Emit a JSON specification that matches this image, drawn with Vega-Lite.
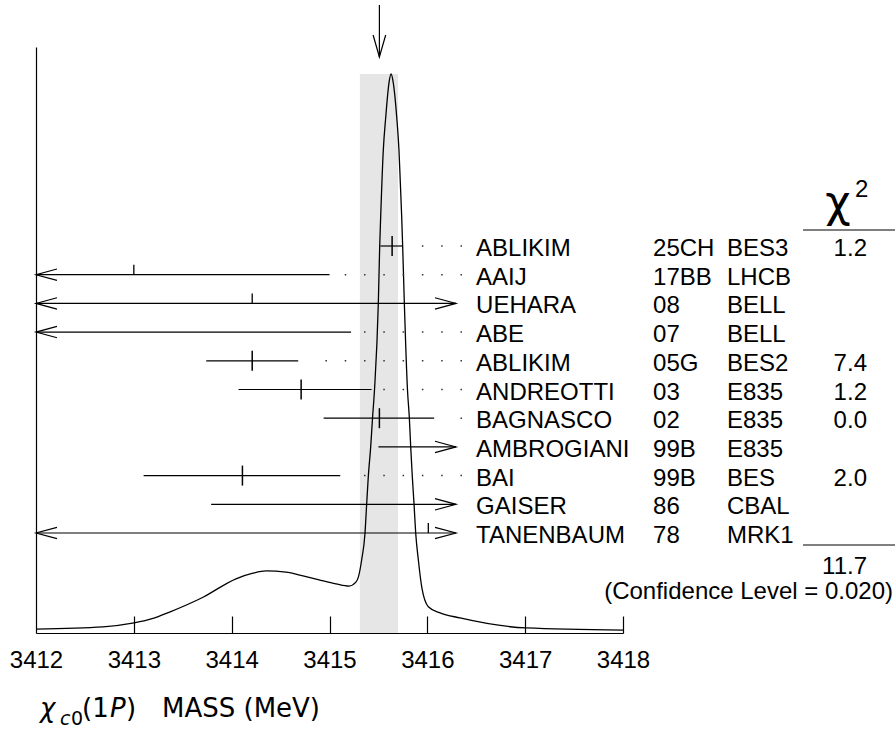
{
  "$schema": "https://vega.github.io/schema/vega-lite/v6.json",
  "width": 587,
  "height": 586,
  "autosize": {"type": "none"},
  "padding": {"left": 36, "top": 47, "right": 272, "bottom": 96},
  "background": "white",
  "config": {"view": {"stroke": null}, "axis": {"grid": false}},
  "datasets": {
    "measurements": [
      {"rank": 1, "name": "ABLIKIM", "ref": "25CH", "exp": "BES3", "value": 3415.64, "lo": 3415.52, "hi": 3415.75, "left_cut": false, "right_cut": false, "chi2": 1.2},
      {"rank": 2, "name": "AAIJ", "ref": "17BB", "exp": "LHCB", "value": 3413.0, "lo": 3412.0, "hi": 3415.0, "left_cut": true, "right_cut": false, "chi2": null},
      {"rank": 3, "name": "UEHARA", "ref": "08", "exp": "BELL", "value": 3414.21, "lo": 3412.0, "hi": 3416.293, "left_cut": true, "right_cut": true, "chi2": null},
      {"rank": 4, "name": "ABE", "ref": "07", "exp": "BELL", "value": null, "lo": 3412.0, "hi": 3415.22, "left_cut": true, "right_cut": false, "chi2": null},
      {"rank": 5, "name": "ABLIKIM", "ref": "05G", "exp": "BES2", "value": 3414.21, "lo": 3413.74, "hi": 3414.68, "left_cut": false, "right_cut": false, "chi2": 7.4},
      {"rank": 6, "name": "ANDREOTTI", "ref": "03", "exp": "E835", "value": 3414.71, "lo": 3414.07, "hi": 3415.43, "left_cut": false, "right_cut": false, "chi2": 1.2},
      {"rank": 7, "name": "BAGNASCO", "ref": "02", "exp": "E835", "value": 3415.51, "lo": 3414.94, "hi": 3416.07, "left_cut": false, "right_cut": false, "chi2": 0.0},
      {"rank": 8, "name": "AMBROGIANI", "ref": "99B", "exp": "E835", "value": null, "lo": 3415.5, "hi": 3416.293, "left_cut": false, "right_cut": true, "chi2": null},
      {"rank": 9, "name": "BAI", "ref": "99B", "exp": "BES", "value": 3414.11, "lo": 3413.1, "hi": 3415.11, "left_cut": false, "right_cut": false, "chi2": 2.0},
      {"rank": 10, "name": "GAISER", "ref": "86", "exp": "CBAL", "value": null, "lo": 3413.79, "hi": 3416.293, "left_cut": false, "right_cut": true, "chi2": null},
      {"rank": 11, "name": "TANENBAUM", "ref": "78", "exp": "MRK1", "value": 3416.01, "lo": 3412.0, "hi": 3416.293, "left_cut": true, "right_cut": true, "chi2": null}
    ],
    "curve": [
      {"mass": 3412.000, "ideogram": 0.007},
      {"mass": 3412.685, "ideogram": 0.011},
      {"mass": 3413.002, "ideogram": 0.018},
      {"mass": 3413.196, "ideogram": 0.026},
      {"mass": 3413.359, "ideogram": 0.037},
      {"mass": 3413.707, "ideogram": 0.064},
      {"mass": 3414.044, "ideogram": 0.097},
      {"mass": 3414.218, "ideogram": 0.107},
      {"mass": 3414.351, "ideogram": 0.111},
      {"mass": 3414.555, "ideogram": 0.109},
      {"mass": 3414.729, "ideogram": 0.102},
      {"mass": 3414.893, "ideogram": 0.095},
      {"mass": 3415.066, "ideogram": 0.088},
      {"mass": 3415.199, "ideogram": 0.084},
      {"mass": 3415.270, "ideogram": 0.091},
      {"mass": 3415.295, "ideogram": 0.100},
      {"mass": 3415.329, "ideogram": 0.131},
      {"mass": 3415.363, "ideogram": 0.179},
      {"mass": 3415.380, "ideogram": 0.231},
      {"mass": 3415.397, "ideogram": 0.281},
      {"mass": 3415.421, "ideogram": 0.333},
      {"mass": 3415.440, "ideogram": 0.385},
      {"mass": 3415.460, "ideogram": 0.435},
      {"mass": 3415.499, "ideogram": 0.590},
      {"mass": 3415.513, "ideogram": 0.691},
      {"mass": 3415.523, "ideogram": 0.744},
      {"mass": 3415.550, "ideogram": 0.864},
      {"mass": 3415.575, "ideogram": 0.923},
      {"mass": 3415.608, "ideogram": 0.984},
      {"mass": 3415.629, "ideogram": 1.000},
      {"mass": 3415.652, "ideogram": 0.984},
      {"mass": 3415.687, "ideogram": 0.923},
      {"mass": 3415.710, "ideogram": 0.864},
      {"mass": 3415.724, "ideogram": 0.805},
      {"mass": 3415.738, "ideogram": 0.744},
      {"mass": 3415.748, "ideogram": 0.691},
      {"mass": 3415.765, "ideogram": 0.590},
      {"mass": 3415.797, "ideogram": 0.435},
      {"mass": 3415.816, "ideogram": 0.385},
      {"mass": 3415.830, "ideogram": 0.333},
      {"mass": 3415.846, "ideogram": 0.281},
      {"mass": 3415.864, "ideogram": 0.231},
      {"mass": 3415.881, "ideogram": 0.179},
      {"mass": 3415.908, "ideogram": 0.131},
      {"mass": 3415.943, "ideogram": 0.082},
      {"mass": 3416.010, "ideogram": 0.047},
      {"mass": 3416.130, "ideogram": 0.036},
      {"mass": 3416.334, "ideogram": 0.027},
      {"mass": 3417.009, "ideogram": 0.009},
      {"mass": 3418.000, "ideogram": 0.005}
    ],
    "average": [{"mean": 3415.51, "lo": 3415.31, "hi": 3415.70}],
    "summary": [{"chi2_total": 11.7, "confidence_level": 0.020}]
  },
  "layer": [
    {
      "data": {"name": "average"},
      "mark": {"type": "rect", "color": "#e6e6e6"},
      "encoding": {
        "x": {
          "field": "lo", "type": "quantitative",
          "scale": {"domain": [3412, 3418], "nice": false, "zero": false},
          "axis": {
            "orient": "top", "offset": -586, "values": [3413, 3414, 3415, 3416, 3417, 3418],
            "title": null, "grid": false, "labels": false, "domain": false,
            "ticks": true, "tickSize": 17, "tickWidth": 1.2, "tickColor": "black"
          }
        },
        "x2": {"field": "hi"},
        "y": {"datum": 0, "type": "quantitative", "axis": null, "scale": {"domain": [0, 1.0483], "nice": false, "zero": false}},
        "y2": {"datum": 1}
      }
    },
    {
      "data": {"name": "curve"},
      "mark": {"type": "line", "color": "black", "strokeWidth": 1.3, "interpolate": "monotone"},
      "encoding": {
        "x": {
          "field": "mass", "type": "quantitative",
          "scale": {"domain": [3412, 3418], "nice": false, "zero": false},
          "axis": {
            "orient": "bottom", "values": [3412, 3413, 3414, 3415, 3416, 3417, 3418],
            "title": null, "grid": false, "format": "d", "ticks": false,
            "domainColor": "black", "domainWidth": 1.2,
            "labelFont": "Liberation Sans", "labelFontSize": 24, "labelColor": "black",
            "labelPadding": 15, "labelFlush": false, "labelOverlap": false
          }
        },
        "y": {
          "field": "ideogram", "type": "quantitative",
          "scale": {"domain": [0, 1.0483], "nice": false, "zero": false},
          "axis": {"domain": true, "ticks": false, "labels": false, "grid": false, "title": null, "domainColor": "black", "domainWidth": 1.2}
        }
      }
    },
    {
      "data": {"name": "average"},
      "mark": {"type": "rule", "color": "black", "strokeWidth": 1.2},
      "encoding": {
        "x": {"field": "mean", "type": "quantitative", "axis": null},
        "y": {"datum": 1.1234, "type": "quantitative", "axis": null, "scale": {"domain": [0, 1.0483], "nice": false, "zero": false}},
        "y2": {"datum": 1.0304}
      }
    },
    {
      "data": {"name": "average"},
      "mark": {"type": "point", "shape": "M -0.286 -1 L 0 0 L 0.286 -1", "size": 1936, "filled": false, "color": "black", "strokeWidth": 1.2, "opacity": 1},
      "encoding": {
        "x": {"field": "mean", "type": "quantitative", "axis": null},
        "y": {"datum": 1.0304, "type": "quantitative", "axis": null, "scale": {"domain": [0, 1.0483], "nice": false, "zero": false}}
      }
    },
    {
      "data": {"name": "average"},
      "mark": {"type": "text", "text": "χ", "font": "DejaVu Sans", "fontSize": 26, "fontStyle": "italic", "align": "left", "baseline": "alphabetic", "color": "black"},
      "encoding": {"x": {"datum": 3412.041, "type": "quantitative", "axis": null}, "y": {"datum": -0.150, "type": "quantitative", "axis": null, "scale": {"domain": [0, 1.0483], "nice": false, "zero": false}}}
    },
    {
      "data": {"name": "average"},
      "mark": {"type": "text", "text": "c", "font": "DejaVu Sans", "fontSize": 19, "fontStyle": "italic", "align": "left", "baseline": "alphabetic", "color": "black"},
      "encoding": {"x": {"datum": 3412.245, "type": "quantitative", "axis": null}, "y": {"datum": -0.1646, "type": "quantitative", "axis": null, "scale": {"domain": [0, 1.0483], "nice": false, "zero": false}}}
    },
    {
      "data": {"name": "average"},
      "mark": {"type": "text", "text": "0", "font": "DejaVu Sans", "fontSize": 19, "align": "left", "baseline": "alphabetic", "color": "black"},
      "encoding": {"x": {"datum": 3412.358, "type": "quantitative", "axis": null}, "y": {"datum": -0.1646, "type": "quantitative", "axis": null, "scale": {"domain": [0, 1.0483], "nice": false, "zero": false}}}
    },
    {
      "data": {"name": "average"},
      "mark": {"type": "text", "text": "(1", "font": "DejaVu Sans", "fontSize": 26, "align": "left", "baseline": "alphabetic", "color": "black"},
      "encoding": {"x": {"datum": 3412.470, "type": "quantitative", "axis": null}, "y": {"datum": -0.150, "type": "quantitative", "axis": null, "scale": {"domain": [0, 1.0483], "nice": false, "zero": false}}}
    },
    {
      "data": {"name": "average"},
      "mark": {"type": "text", "text": "P", "font": "DejaVu Sans", "fontSize": 26, "fontStyle": "italic", "align": "left", "baseline": "alphabetic", "color": "black"},
      "encoding": {"x": {"datum": 3412.756, "type": "quantitative", "axis": null}, "y": {"datum": -0.150, "type": "quantitative", "axis": null, "scale": {"domain": [0, 1.0483], "nice": false, "zero": false}}}
    },
    {
      "data": {"name": "average"},
      "mark": {"type": "text", "text": ")", "font": "DejaVu Sans", "fontSize": 26, "align": "left", "baseline": "alphabetic", "color": "black"},
      "encoding": {"x": {"datum": 3412.920, "type": "quantitative", "axis": null}, "y": {"datum": -0.150, "type": "quantitative", "axis": null, "scale": {"domain": [0, 1.0483], "nice": false, "zero": false}}}
    },
    {
      "data": {"name": "average"},
      "mark": {"type": "text", "text": "MASS (MeV)", "font": "DejaVu Sans", "fontSize": 26, "align": "left", "baseline": "alphabetic", "color": "black"},
      "encoding": {"x": {"datum": 3413.288, "type": "quantitative", "axis": null}, "y": {"datum": -0.150, "type": "quantitative", "axis": null, "scale": {"domain": [0, 1.0483], "nice": false, "zero": false}}}
    },
    {
      "data": {"name": "measurements"},
      "mark": {"type": "rule", "color": "black", "strokeWidth": 1.2},
      "encoding": {
        "x": {"field": "lo", "type": "quantitative", "axis": null},
        "x2": {"field": "hi"},
        "y": {"field": "rank", "type": "quantitative", "axis": null, "scale": {"domain": [-5.934, 14.484], "reverse": true, "nice": false, "zero": false}}
      }
    },
    {
      "data": {"name": "measurements"},
      "transform": [{"filter": "!datum.right_cut"}, {"calculate": "3416.354", "as": "leader_end"}],
      "mark": {"type": "rule", "color": "#333333", "strokeWidth": 1.5, "strokeDash": [1.5, 17.79], "x2Offset": 10},
      "encoding": {
        "x": {"field": "leader_end", "type": "quantitative", "axis": null},
        "x2": {"field": "hi"},
        "y": {"field": "rank", "type": "quantitative", "axis": null, "scale": {"domain": [-5.934, 14.484], "reverse": true, "nice": false, "zero": false}}
      }
    },
    {
      "data": {"name": "measurements"},
      "transform": [{"filter": "datum.left_cut"}],
      "mark": {"type": "point", "shape": "M 1 -0.27 L 0 0 L 1 0.27", "size": 1764, "filled": false, "color": "black", "strokeWidth": 1.2, "opacity": 1},
      "encoding": {
        "x": {"field": "lo", "type": "quantitative", "axis": null},
        "y": {"field": "rank", "type": "quantitative", "axis": null, "scale": {"domain": [-5.934, 14.484], "reverse": true, "nice": false, "zero": false}}
      }
    },
    {
      "data": {"name": "measurements"},
      "transform": [{"filter": "datum.right_cut"}],
      "mark": {"type": "point", "shape": "M -1 -0.27 L 0 0 L -1 0.27", "size": 1764, "filled": false, "color": "black", "strokeWidth": 1.2, "opacity": 1},
      "encoding": {
        "x": {"field": "hi", "type": "quantitative", "axis": null},
        "y": {"field": "rank", "type": "quantitative", "axis": null, "scale": {"domain": [-5.934, 14.484], "reverse": true, "nice": false, "zero": false}}
      }
    },
    {
      "data": {"name": "measurements"},
      "transform": [{"filter": "datum.value != null && datum.chi2 != null"}],
      "mark": {"type": "tick", "orient": "vertical", "size": 20, "thickness": 1.5, "color": "black", "opacity": 1},
      "encoding": {
        "x": {"field": "value", "type": "quantitative", "axis": null},
        "y": {"field": "rank", "type": "quantitative", "axis": null, "scale": {"domain": [-5.934, 14.484], "reverse": true, "nice": false, "zero": false}}
      }
    },
    {
      "data": {"name": "measurements"},
      "transform": [{"filter": "datum.value != null && datum.chi2 == null"}],
      "mark": {"type": "tick", "orient": "vertical", "size": 10, "yOffset": -5, "thickness": 1.3, "color": "black", "opacity": 1},
      "encoding": {
        "x": {"field": "value", "type": "quantitative", "axis": null},
        "y": {"field": "rank", "type": "quantitative", "axis": null, "scale": {"domain": [-5.934, 14.484], "reverse": true, "nice": false, "zero": false}}
      }
    },
    {
      "data": {"name": "measurements"},
      "mark": {"type": "text", "font": "Liberation Sans", "fontSize": 24, "align": "left", "baseline": "alphabetic", "dy": 10, "color": "black"},
      "encoding": {
        "x": {"datum": 3416.498, "type": "quantitative", "axis": null},
        "y": {"field": "rank", "type": "quantitative", "axis": null, "scale": {"domain": [-5.934, 14.484], "reverse": true, "nice": false, "zero": false}},
        "text": {"field": "name", "type": "nominal"}
      }
    },
    {
      "data": {"name": "measurements"},
      "mark": {"type": "text", "font": "Liberation Sans", "fontSize": 24, "align": "left", "baseline": "alphabetic", "dy": 10, "color": "black"},
      "encoding": {
        "x": {"datum": 3418.307, "type": "quantitative", "axis": null},
        "y": {"field": "rank", "type": "quantitative", "axis": null, "scale": {"domain": [-5.934, 14.484], "reverse": true, "nice": false, "zero": false}},
        "text": {"field": "ref", "type": "nominal"}
      }
    },
    {
      "data": {"name": "measurements"},
      "mark": {"type": "text", "font": "Liberation Sans", "fontSize": 24, "align": "left", "baseline": "alphabetic", "dy": 10, "color": "black"},
      "encoding": {
        "x": {"datum": 3419.063, "type": "quantitative", "axis": null},
        "y": {"field": "rank", "type": "quantitative", "axis": null, "scale": {"domain": [-5.934, 14.484], "reverse": true, "nice": false, "zero": false}},
        "text": {"field": "exp", "type": "nominal"}
      }
    },
    {
      "data": {"name": "measurements"},
      "transform": [{"filter": "datum.chi2 != null"}],
      "mark": {"type": "text", "font": "Liberation Sans", "fontSize": 24, "align": "right", "baseline": "alphabetic", "dy": 10, "color": "black"},
      "encoding": {
        "x": {"datum": 3420.494, "type": "quantitative", "axis": null},
        "y": {"field": "rank", "type": "quantitative", "axis": null, "scale": {"domain": [-5.934, 14.484], "reverse": true, "nice": false, "zero": false}},
        "text": {"field": "chi2", "type": "quantitative", "format": ".1f"}
      }
    },
    {
      "data": {"name": "summary"},
      "mark": {"type": "text", "text": "χ", "font": "DejaVu Sans", "fontSize": 44, "align": "center", "baseline": "alphabetic", "color": "black"},
      "encoding": {
        "x": {"datum": 3420.198, "type": "quantitative", "axis": null},
        "y": {"datum": 0, "type": "quantitative", "axis": null, "scale": {"domain": [-5.934, 14.484], "reverse": true, "nice": false, "zero": false}}
      }
    },
    {
      "data": {"name": "summary"},
      "mark": {"type": "text", "text": "2", "font": "Liberation Sans", "fontSize": 24, "align": "left", "baseline": "alphabetic", "dy": -20, "color": "black"},
      "encoding": {
        "x": {"datum": 3420.372, "type": "quantitative", "axis": null},
        "y": {"datum": 0, "type": "quantitative", "axis": null, "scale": {"domain": [-5.934, 14.484], "reverse": true, "nice": false, "zero": false}}
      }
    },
    {
      "data": {"name": "summary"},
      "mark": {"type": "rule", "color": "black", "strokeWidth": 1.2},
      "encoding": {
        "x": {"datum": 3419.840, "type": "quantitative", "axis": null},
        "x2": {"datum": 3420.781},
        "y": {"datum": 0.443, "type": "quantitative", "axis": null, "scale": {"domain": [-5.934, 14.484], "reverse": true, "nice": false, "zero": false}}
      }
    },
    {
      "data": {"name": "summary"},
      "mark": {"type": "rule", "color": "black", "strokeWidth": 1.2},
      "encoding": {
        "x": {"datum": 3419.840, "type": "quantitative", "axis": null},
        "x2": {"datum": 3420.781},
        "y": {"datum": 11.418, "type": "quantitative", "axis": null, "scale": {"domain": [-5.934, 14.484], "reverse": true, "nice": false, "zero": false}}
      }
    },
    {
      "data": {"name": "summary"},
      "mark": {"type": "text", "font": "Liberation Sans", "fontSize": 24, "align": "right", "baseline": "alphabetic", "dy": 10, "color": "black"},
      "encoding": {
        "x": {"datum": 3420.494, "type": "quantitative", "axis": null},
        "y": {"datum": 12.09, "type": "quantitative", "axis": null, "scale": {"domain": [-5.934, 14.484], "reverse": true, "nice": false, "zero": false}},
        "text": {"field": "chi2_total", "type": "quantitative", "format": ".1f"}
      }
    },
    {
      "data": {"name": "summary"},
      "mark": {"type": "text", "text": "(Confidence Level = 0.020)", "font": "Liberation Sans", "fontSize": 24, "align": "right", "baseline": "alphabetic", "dy": 10, "color": "black"},
      "encoding": {
        "x": {"datum": 3420.760, "type": "quantitative", "axis": null},
        "y": {"datum": 12.96, "type": "quantitative", "axis": null, "scale": {"domain": [-5.934, 14.484], "reverse": true, "nice": false, "zero": false}}
      }
    }
  ],
  "resolve": {"scale": {"y": "independent"}, "axis": {"x": "independent"}}
}
